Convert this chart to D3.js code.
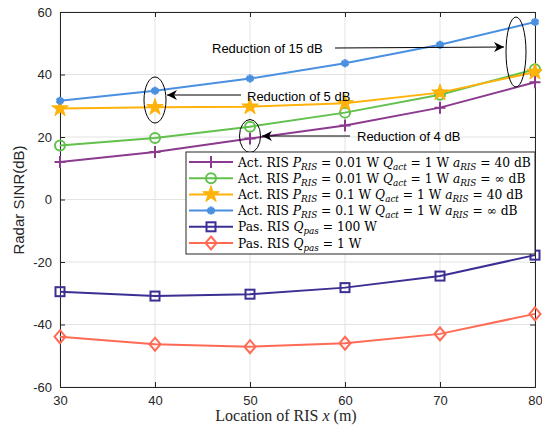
<!DOCTYPE html>
<html><head><meta charset="utf-8">
<script src="https://cdn.jsdelivr.net/npm/d3@7"></script>
<style>body{margin:0;background:#fff}svg{display:block}</style>
</head><body>
<svg id="c" width="542" height="434"></svg>
<script>
const xs = [30, 40, 50, 60, 70, 80];
const actP001a40 = [12.0, 15.2, 19.5, 23.7, 29.4, 37.5];
const actP001aInf = [17.3, 19.7, 23.3, 27.8, 33.5, 41.7];
const actP01a40 = [29.1, 29.5, 29.7, 30.8, 34.2, 40.8];
const actP01aInf = [31.6, 34.8, 38.7, 43.6, 49.5, 56.8];
const pas100 = [-29.5, -30.9, -30.3, -28.2, -24.5, -17.8];
const pas1 = [-43.9, -46.3, -47.1, -46.0, -43.0, -36.6];
const xTicks = [30, 40, 50, 60, 70, 80];
const yTicks = [-60, -40, -20, 0, 20, 40, 60];

const series = [
  {vals: actP001a40, color: "#8B3A8F", marker: "plus", p: "0.01", a: "40"},
  {vals: actP001aInf, color: "#62C04C", marker: "circle", p: "0.01", a: "∞"},
  {vals: actP01a40, color: "#FFB20A", marker: "star", p: "0.1", a: "40"},
  {vals: actP01aInf, color: "#4A8FE0", marker: "asterisk", p: "0.1", a: "∞"},
  {vals: pas100, color: "#3B2F93", marker: "square", pas: "100"},
  {vals: pas1, color: "#FF6A55", marker: "diamond", pas: "1"}
];

const svg = d3.select("#c");
const L = 60, R = 535, T = 12, B = 387;
const x = d3.scaleLinear().domain([30, 80]).range([L, R]);
const y = d3.scaleLinear().domain([-60, 60]).range([B, T]);

// grid
svg.append("g").selectAll("line").data(xTicks).join("line")
  .attr("x1", d => x(d)).attr("x2", d => x(d)).attr("y1", T).attr("y2", B)
  .attr("stroke", "#e3e3e3").attr("stroke-width", 1);
svg.append("g").selectAll("line").data(yTicks).join("line")
  .attr("y1", d => y(d)).attr("y2", d => y(d)).attr("x1", L).attr("x2", R)
  .attr("stroke", "#e3e3e3").attr("stroke-width", 1);

// axes
const fontTick = "Liberation Sans, Arial, sans-serif";
const fmt = d => String(d);
const gx = svg.append("g").attr("transform", `translate(0,${B})`)
  .call(d3.axisBottom(x).tickValues(xTicks).tickSize(-5).tickPadding(9).tickFormat(fmt));
const gy = svg.append("g").attr("transform", `translate(${L},0)`)
  .call(d3.axisLeft(y).tickValues(yTicks).tickSize(-5).tickPadding(8).tickFormat(fmt));
const gx2 = svg.append("g").attr("transform", `translate(0,${T})`)
  .call(d3.axisTop(x).tickValues(xTicks).tickSize(-5).tickFormat(""));
const gy2 = svg.append("g").attr("transform", `translate(${R},0)`)
  .call(d3.axisRight(y).tickValues(yTicks).tickSize(-5).tickFormat(""));
[gx, gy, gx2, gy2].forEach(g => {
  g.select(".domain").attr("stroke", "#262626").attr("stroke-width", 1);
  g.selectAll(".tick line").attr("stroke", "#262626");
  g.selectAll("text").attr("font-family", fontTick).attr("font-size", 13).attr("fill", "#262626");
});
gx2.selectAll("text").remove();
gy2.selectAll("text").remove();

// lines
const line = d3.line().x((d, i) => x(xs[i])).y(d => y(d));
function marker(g, type, color, cx, cy) {
  if (type === "plus") {
    g.append("path").attr("d", `M${cx-5.5},${cy}H${cx+5.5}M${cx},${cy-6}V${cy+6}`)
      .attr("stroke", color).attr("stroke-width", 2).attr("fill", "none");
  } else if (type === "circle") {
    g.append("circle").attr("cx", cx).attr("cy", cy).attr("r", 5)
      .attr("fill", "none").attr("stroke", color).attr("stroke-width", 2);
  } else if (type === "star") {
    g.append("path").attr("d", d3.symbol(d3.symbolStar, 85)())
      .attr("transform", `translate(${cx},${cy})`).attr("fill", color).attr("stroke", color).attr("stroke-width", 1);
  } else if (type === "asterisk") {
    g.append("path").attr("d", d3.symbol(d3.symbolAsterisk, 45)())
      .attr("transform", `translate(${cx},${cy})`).attr("fill", "none").attr("stroke", color).attr("stroke-width", 3);
  } else if (type === "square") {
    g.append("rect").attr("x", cx - 4.5).attr("y", cy - 4.5).attr("width", 9).attr("height", 9)
      .attr("fill", "none").attr("stroke", color).attr("stroke-width", 2);
  } else if (type === "diamond") {
    g.append("path").attr("d", `M${cx},${cy-6.5}L${cx+5.5},${cy}L${cx},${cy+6.5}L${cx-5.5},${cy}Z`)
      .attr("fill", "none").attr("stroke", color).attr("stroke-width", 2);
  }
}
series.forEach(s => {
  const g = svg.append("g");
  g.append("path").datum(s.vals).attr("d", line).attr("fill", "none")
    .attr("stroke", s.color).attr("stroke-width", 2);
  s.vals.forEach((v, i) => marker(g, s.marker, s.color, x(xs[i]), y(v)));
});

// annotations
const ann = svg.append("g");
svg.append("defs").append("marker").attr("id", "ah").attr("viewBox", "0 0 10 10")
  .attr("refX", 10).attr("refY", 5).attr("markerWidth", 12).attr("markerHeight", 10)
  .attr("markerUnits", "userSpaceOnUse").attr("orient", "auto")
  .append("path").attr("d", "M0,0L10,5L0,10L3,5Z").attr("fill", "#000");
const annots = [
  {text: "Reduction of 15 dB", tx: 212, ty: 53, x1: 335, y1: 48, x2: 504, y2: 47, ex: 516, ey: 52, rx: 10, ry: 35},
  {text: "Reduction of 5 dB", tx: 247, ty: 101, x1: 241, y1: 95, x2: 167, y2: 95, ex: 155, ey: 100, rx: 11, ry: 23},
  {text: "Reduction of 4 dB", tx: 357, ty: 141, x1: 350, y1: 136, x2: 262, y2: 136, ex: 250, ey: 136, rx: 10.5, ry: 16.5}
];
annots.forEach(a => {
  ann.append("ellipse").attr("cx", a.ex).attr("cy", a.ey).attr("rx", a.rx).attr("ry", a.ry)
    .attr("fill", "none").attr("stroke", "#000").attr("stroke-width", 1);
  ann.append("line").attr("x1", a.x1).attr("y1", a.y1).attr("x2", a.x2).attr("y2", a.y2)
    .attr("stroke", "#000").attr("stroke-width", 1).attr("marker-end", "url(#ah)");
  ann.append("text").attr("x", a.tx).attr("y", a.ty).text(a.text)
    .attr("font-family", fontTick).attr("font-size", 13).attr("fill", "#000");
});

// legend
const lg = svg.append("g");
lg.append("rect").attr("x", 186).attr("y", 152).attr("width", 349).attr("height", 102)
  .attr("fill", "#fff").attr("stroke", "#262626").attr("stroke-width", 1);
const serif = "DejaVu Serif, Liberation Serif, serif";
const texts = [];
series.forEach((s, i) => {
  const cy = 162 + i * 16.2;
  lg.append("line").attr("x1", 189).attr("x2", 233).attr("y1", cy).attr("y2", cy)
    .attr("stroke", s.color).attr("stroke-width", 2);
  marker(lg, s.marker, s.color, 211, cy);
  const t = lg.append("text").attr("x", 238).attr("y", cy + 4.5)
    .attr("font-family", serif).attr("font-size", 12).attr("fill", "#000");
  let back = 0;
  const take = () => { const d = back; back = 0; return d; };
  const it = (txt) => t.append("tspan").attr("font-style", "italic").attr("dy", take()).text(txt);
  const sub = (txt) => { t.append("tspan").attr("font-style", "italic").attr("font-size", "0.72em").attr("dy", 3).text(txt); back = -3; };
  const rm = (txt) => t.append("tspan").attr("dy", take()).text(txt);
  if (s.pas) {
    rm("Pas. RIS "); it("Q"); sub("pas"); rm(" = " + s.pas + " W");
  } else {
    rm("Act. RIS "); it("P"); sub("RIS"); rm(" = " + s.p + " W "); it("Q"); sub("act");
    rm(" = 1 W "); it("a"); sub("RIS"); rm(" = " + s.a + " dB");
  }
  texts.push(t);
});
// fit legend text width to the reference (first row spans ~293px)
const w0 = texts[0].node().getComputedTextLength();
const fs = 12 * 293 / w0;
texts.forEach(t => t.attr("font-size", fs));

// axis labels
svg.append("text").attr("transform", `translate(24,200) rotate(-90)`).attr("text-anchor", "middle")
  .attr("font-family", fontTick).attr("font-size", 15).attr("fill", "#262626").text("Radar SINR(dB)");
const xl = svg.append("text").attr("x", 286).attr("y", 421).attr("text-anchor", "middle")
  .attr("font-family", "Liberation Serif, serif").attr("font-size", 16).attr("fill", "#262626");
xl.append("tspan").text("Location of RIS ");
xl.append("tspan").attr("font-style", "italic").text("x");
xl.append("tspan").text(" (m)");
</script>
</body></html>
